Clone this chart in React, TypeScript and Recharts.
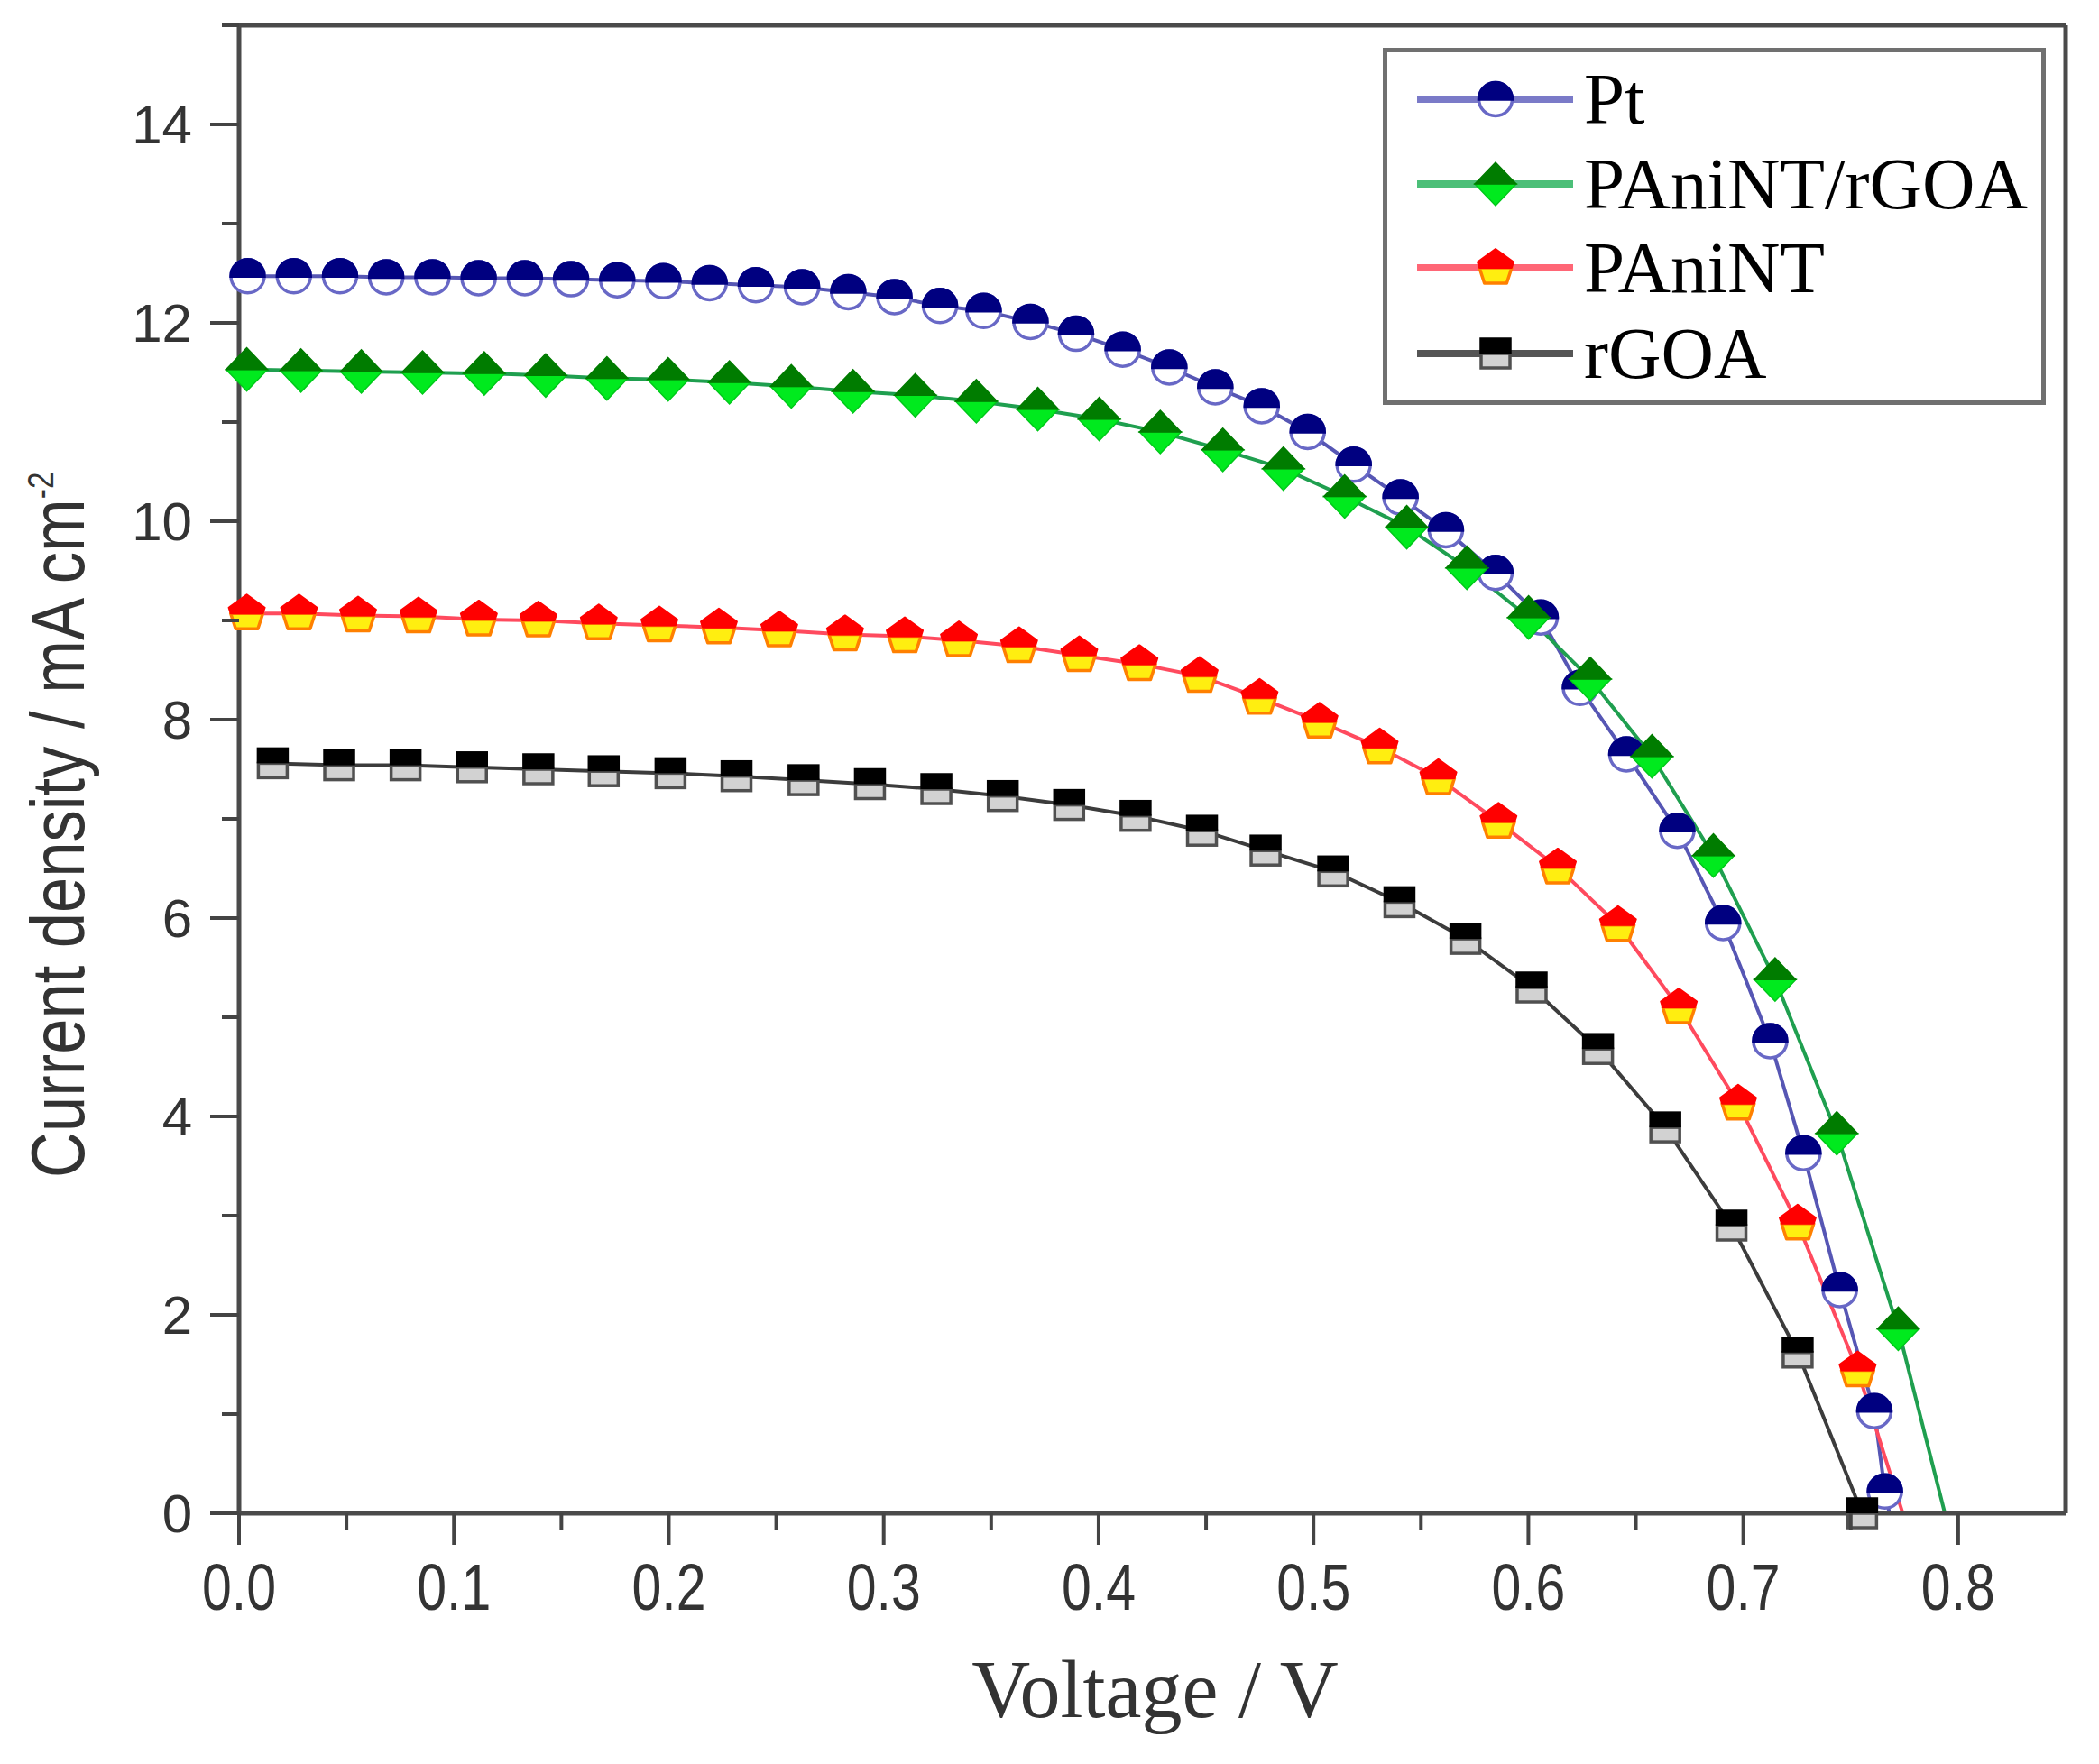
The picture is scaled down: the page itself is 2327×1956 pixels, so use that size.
import React from 'react';
import { LineChart, Line, XAxis, YAxis, ReferenceLine, Legend } from 'recharts';

// ---------- data ----------
const ptVoltage = [0.004, 0.0255, 0.047, 0.0685, 0.09, 0.1115, 0.133, 0.1545, 0.176, 0.1975, 0.219, 0.2405, 0.262, 0.2835, 0.305, 0.3262, 0.3465, 0.3683, 0.3895, 0.4112, 0.4329, 0.4543, 0.4759, 0.4973, 0.5187, 0.5405, 0.5616, 0.5847, 0.6057, 0.624, 0.6456, 0.6693, 0.6906, 0.7125, 0.728, 0.7449, 0.761, 0.7659, 0.768];
const ptCurrent = [12.47, 12.47, 12.47, 12.46, 12.46, 12.45, 12.45, 12.44, 12.43, 12.42, 12.4, 12.38, 12.36, 12.31, 12.26, 12.17, 12.12, 12.01, 11.89, 11.73, 11.55, 11.35, 11.16, 10.9, 10.57, 10.24, 9.91, 9.48, 9.03, 8.32, 7.65, 6.88, 5.95, 4.76, 3.63, 2.25, 1.03, 0.22, 0];

const hybridVoltage = [0.0036, 0.0288, 0.0569, 0.0854, 0.1141, 0.1427, 0.1712, 0.1997, 0.2282, 0.257, 0.2857, 0.3147, 0.3431, 0.3717, 0.4003, 0.4287, 0.4578, 0.486, 0.5145, 0.5434, 0.5714, 0.6001, 0.6288, 0.6575, 0.6861, 0.7148, 0.7435, 0.7721, 0.7938];
const hybridCurrent = [11.53, 11.52, 11.51, 11.5, 11.49, 11.47, 11.44, 11.43, 11.4, 11.36, 11.31, 11.27, 11.21, 11.13, 11.03, 10.9, 10.72, 10.53, 10.25, 9.94, 9.53, 9.03, 8.41, 7.63, 6.63, 5.38, 3.83, 1.86, 0];

const paniVoltage = [0.0036, 0.0279, 0.0554, 0.0835, 0.1116, 0.1393, 0.1674, 0.1956, 0.2233, 0.2514, 0.282, 0.3098, 0.335, 0.363, 0.391, 0.419, 0.447, 0.4749, 0.5028, 0.5308, 0.5581, 0.5861, 0.6137, 0.6417, 0.67, 0.6976, 0.7253, 0.7532, 0.7742];
const paniCurrent = [9.07, 9.07, 9.05, 9.04, 9.01, 9.0, 8.97, 8.95, 8.93, 8.9, 8.86, 8.84, 8.8, 8.74, 8.65, 8.56, 8.44, 8.22, 7.98, 7.72, 7.41, 6.97, 6.51, 5.93, 5.1, 4.13, 2.92, 1.44, 0];

const rgoaVoltage = [0.0157, 0.0466, 0.0775, 0.1084, 0.1393, 0.1697, 0.2008, 0.2315, 0.2627, 0.2936, 0.3245, 0.3554, 0.3863, 0.4172, 0.4481, 0.4777, 0.5092, 0.54, 0.5707, 0.6015, 0.6324, 0.6637, 0.6945, 0.7253, 0.7553];
const rgoaCurrent = [7.56, 7.54, 7.54, 7.52, 7.5, 7.48, 7.46, 7.43, 7.39, 7.35, 7.3, 7.23, 7.14, 7.03, 6.88, 6.68, 6.47, 6.16, 5.79, 5.3, 4.68, 3.89, 2.9, 1.62, 0];

const seriesNames = ['Pt', 'PAniNT/rGOA', 'PAniNT', 'rGOA'];
const xTicks = [0, 0.05, 0.1, 0.15, 0.2, 0.25, 0.3, 0.35, 0.4, 0.45, 0.5, 0.55, 0.6, 0.65, 0.7, 0.75, 0.8];
const yTicks = [0, 1, 2, 3, 4, 5, 6, 7, 8, 9, 10, 11, 12, 13, 14, 15];

// ---------- build series ----------
const toRows = (v: number[], j: number[], lastHasMarker: boolean) =>
  v.map((x, i) => ({ x, y: j[i], noMarker: !lastHasMarker && i === v.length - 1 }));

const SERIES = [
  { name: seriesNames[0], data: toRows(ptVoltage, ptCurrent, false), stroke: '#5656b4', legendStroke: '#7a7ac8', kind: 'circle' },
  { name: seriesNames[1], data: toRows(hybridVoltage, hybridCurrent, false), stroke: '#1f9f4f', legendStroke: '#4cbf78', kind: 'diamond' },
  { name: seriesNames[2], data: toRows(paniVoltage, paniCurrent, false), stroke: '#ff4a5e', legendStroke: '#ff6676', kind: 'pentagon' },
  { name: seriesNames[3], data: toRows(rgoaVoltage, rgoaCurrent, true), stroke: '#3c3c3c', legendStroke: '#555555', kind: 'square' },
];

const SANS = "'Liberation Sans', Arial, sans-serif";
const SERIF = "'Liberation Serif', 'Times New Roman', serif";

// ---------- markers ----------
function Marker({ kind, cx, cy }: { kind: string; cx: number; cy: number }) {
  if (kind === 'circle') {
    const r = 18.5;
    return (
      <g>
        <circle cx={cx} cy={cy} r={r} fill="#ffffff" stroke="#6868c6" strokeWidth={3.5} />
        <path d={`M${cx - r},${cy} A${r},${r} 0 0 1 ${cx + r},${cy} Z`} fill="#000080" stroke="#000080" strokeWidth={3.5} />
      </g>
    );
  }
  if (kind === 'diamond') {
    const hw = 23, hh = 24;
    return (
      <g>
        <path d={`M${cx - hw},${cy} L${cx},${cy + hh} L${cx + hw},${cy} Z`} fill="#00ea1e" stroke="#00c81a" strokeWidth={1.5} />
        <path d={`M${cx - hw},${cy} L${cx},${cy - hh} L${cx + hw},${cy} Z`} fill="#007c00" stroke="#007c00" strokeWidth={1.5} />
      </g>
    );
  }
  if (kind === 'pentagon') {
    const R = 21;
    const p = (a: number, b: number) => `${cx + a * R},${cy + b * R}`;
    return (
      <g>
        <path d={`M${p(-0.8507, 0)} L${p(0.8507, 0)} L${p(0.588, 0.809)} L${p(-0.588, 0.809)} Z`} fill="#ffee10" stroke="#ff8000" strokeWidth={3.5} strokeLinejoin="round" />
        <path d={`M${p(-0.8507, 0)} L${p(-0.951, -0.309)} L${p(0, -1)} L${p(0.951, -0.309)} L${p(0.8507, 0)} Z`} fill="#ff0000" stroke="#ff0000" strokeWidth={2} strokeLinejoin="round" />
      </g>
    );
  }
  const s = 16;
  return (
    <g>
      <rect x={cx - s} y={cy} width={2 * s} height={s} fill="#d2d2d2" stroke="#505050" strokeWidth={3.5} />
      <rect x={cx - s - 1.75} y={cy - s - 1.75} width={2 * s + 3.5} height={s + 1.75} fill="#000000" />
    </g>
  );
}

const makeDot = (kind: string) => (props: any) => {
  const { cx, cy, index, payload } = props;
  if (payload && payload.noMarker) return <g key={`d-${kind}-${index}`} />;
  return (
    <g key={`d-${kind}-${index}`}>
      <Marker kind={kind} cx={cx} cy={cy} />
    </g>
  );
};

// ---------- ticks ----------
const XTick = (props: any) => {
  const { x, y, payload } = props;
  const v = payload.value as number;
  const major = Math.round(v * 20) % 2 === 0;
  return (
    <g>
      <line x1={x} x2={x} y1={y} y2={y + (major ? 35 : 18)} stroke="#444" strokeWidth={4} />
      {major && (
        <text transform={`translate(${x},${y + 107}) scale(0.82,1)`} textAnchor="middle" fontFamily={SANS} fontSize={72} fill="#333">
          {v.toFixed(1)}
        </text>
      )}
    </g>
  );
};

const YTick = (props: any) => {
  const { x, y, payload } = props;
  const v = payload.value as number;
  const major = v % 2 === 0;
  return (
    <g>
      <line x1={x} x2={x - (major ? 32 : 19)} y1={y} y2={y} stroke="#444" strokeWidth={4} />
      {major && (
        <text x={x - 52} y={y + 21} textAnchor="end" fontFamily={SANS} fontSize={60} fill="#333">
          {v}
        </text>
      )}
    </g>
  );
};

// ---------- axis titles ----------
const XTitle = (props: any) => {
  const vb = props.viewBox || { x: 257, y: 1670, width: 2025, height: 270 };
  return (
    <text x={vb.x + vb.width / 2 + 3} y={vb.y + 226} textAnchor="middle" fontFamily={SERIF} fontSize={90} fill="#333">
      Voltage / V
    </text>
  );
};

const YTitle = (props: any) => {
  const vb = props.viewBox || { x: 0, y: 20, width: 257, height: 1650 };
  const x = vb.x + 85;
  const y = vb.y + vb.height - 372;
  return (
    <g transform={`translate(${x},${y}) rotate(-90) scale(0.84,1)`}>
      <text x={0} y={0} textAnchor="start" fontFamily={SANS} fontSize={84} fill="#333">
        Current density / mA cm
        <tspan fontSize={40} dy={-34}>-2</tspan>
      </text>
    </g>
  );
};

// ---------- legend ----------
const legendRows = [57, 151, 244, 339];
const renderLegend = () => (
  <svg width={735} height={396} style={{ display: 'block' }}>
    <rect x={2.5} y={2.5} width={730} height={391} fill="#ffffff" stroke="#707070" strokeWidth={5} />
    {SERIES.map((s, i) => (
      <g key={s.name}>
        <line x1={38} x2={211} y1={legendRows[i]} y2={legendRows[i]} stroke={s.legendStroke} strokeWidth={8} />
        <Marker kind={s.kind} cx={125} cy={legendRows[i]} />
        <text x={223} y={legendRows[i] + 27} fontFamily={SERIF} fontSize={81} fill="#000">
          {s.name}
        </text>
      </g>
    ))}
  </svg>
);

export default function App() {
  return (
    <div style={{ width: 2311, height: 1940, background: '#fff' }}>
      <LineChart width={2311} height={1940} margin={{ top: 20, right: 29, bottom: 0, left: 0 }}>
        <XAxis
          dataKey="x"
          type="number"
          domain={[0, 0.85]}
          ticks={xTicks}
          interval={0}
          height={270}
          tickSize={0}
          tickMargin={0}
          tickLine={false}
          tick={<XTick />}
          axisLine={{ stroke: '#4a4a4a', strokeWidth: 5 }}
          label={<XTitle />}
        />
        <YAxis
          type="number"
          domain={[0, 15]}
          ticks={yTicks}
          interval={0}
          width={257}
          tickSize={0}
          tickMargin={0}
          tickLine={false}
          tick={<YTick />}
          axisLine={{ stroke: '#4a4a4a', strokeWidth: 5 }}
          label={<YTitle />}
        />
        <ReferenceLine y={15} stroke="#4a4a4a" strokeWidth={5} />
        <ReferenceLine x={0.85} stroke="#4a4a4a" strokeWidth={5} />
        {SERIES.map((s) => (
          <Line
            key={s.name}
            name={s.name}
            data={s.data}
            dataKey="y"
            type="linear"
            stroke={s.stroke}
            strokeWidth={4}
            dot={makeDot(s.kind)}
            activeDot={false}
            isAnimationActive={false}
          />
        ))}
        <Legend
          layout="vertical"
          align="center"
          verticalAlign="middle"
          content={renderLegend}
          wrapperStyle={{ left: 1525, top: 45, width: 735, height: 396 }}
        />
      </LineChart>
    </div>
  );
}
